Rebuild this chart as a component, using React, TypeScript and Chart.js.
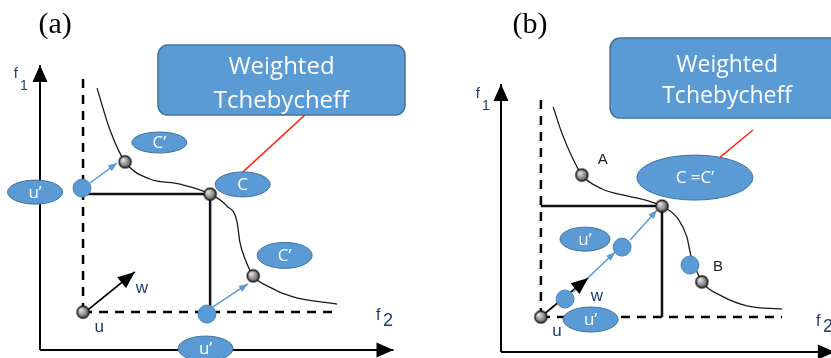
import React, { useEffect, useRef } from "react";
import { Chart, registerables } from "chart.js";

Chart.register(...registerables);

type P = [number, number];

// ---------------- Panel (a) data, diagram units (f2 horizontal, f1 vertical) ----------------
const A_TITLE = "(a)";
const A_TITLE_AT: P = [0.43, 11.4];
const A_F1_AXIS: P[] = [[0, 0], [0, 10.0]];
const A_F2_AXIS: P[] = [[0, 0], [10.1, 0]];
const A_DASH_V: P[] = [[1.23, 1.33], [1.23, 9.58]];
const A_DASH_H: P[] = [[1.23, 1.33], [8.49, 1.33]];
const A_RECT: P[] = [[1.2, 5.47], [4.86, 5.47], [4.86, 1.26]];
const A_FRONT: P[] = [
  [1.63, 9.19], [2.0, 7.72], [2.43, 6.6], [3.14, 6.0], [4.0, 5.82], [4.86, 5.47],
  [5.34, 5.05], [5.63, 4.49], [5.71, 3.79], [5.86, 3.19], [6.09, 2.6], [6.49, 2.25],
  [7.23, 1.86], [8.49, 1.61],
];
const A_FRONT_PTS: P[] = [[2.43, 6.6], [4.86, 5.47], [6.09, 2.6]];
const A_IDEAL: P[] = [[1.23, 1.33]];
const A_SHIFTED: P[] = [[1.2, 5.68], [4.77, 1.26]];
const A_MOVE_1: P[] = [[1.43, 5.86], [2.2, 6.56]];
const A_MOVE_2: P[] = [[4.94, 1.51], [5.94, 2.32]];
const A_WEIGHT: P[] = [[1.29, 1.33], [2.71, 2.74]];
const A_LINK: P[] = [[7.57, 8.25], [5.8, 6.25]];
const A_BUBBLE_TEXT = ["u\u2019", "C\u2019", "C", "C\u2019", "u\u2019"];
const A_BUBBLE_AT: P[] = [[-0.14, 5.54], [3.41, 7.28], [5.79, 5.81], [6.99, 3.32], [4.73, 0.05]];
const A_BOX_TEXT = ["Weighted", "Tchebycheff"];
const A_BOX_AT: P = [6.9, 9.47];
const A_LABEL_TEXT = ["u", "w"];
const A_LABEL_AT: P[] = [[1.69, 0.81], [2.91, 2.18]];
const A_F1_AT: P = [-0.69, 9.68];
const A_F2_AT: P = [9.66, 1.19];

// ---------------- Panel (b) data ----------------
const B_TITLE = "(b)";
const B_TITLE_AT: P = [0.83, 11.47];
const B_F1_AXIS: P[] = [[0, 0], [0, 9.4]];
const B_F2_AXIS: P[] = [[0, 0], [9.54, 0]];
const B_DASH_V: P[] = [[1.14, 1.23], [1.14, 9.02]];
const B_DASH_H: P[] = [[1.14, 1.23], [8.03, 1.23]];
const B_RECT: P[] = [[1.14, 5.12], [4.6, 5.12], [4.6, 1.23]];
const B_FRONT: P[] = [
  [1.49, 8.6], [1.74, 7.68], [2.03, 6.84], [2.31, 6.21], [2.89, 5.72], [3.63, 5.47],
  [4.2, 5.3], [4.6, 5.12], [5.06, 4.67], [5.31, 4.04], [5.43, 3.37], [5.6, 2.81],
  [5.74, 2.46], [6.31, 1.96], [7.06, 1.61], [8.03, 1.51],
];
const B_FRONT_PTS: P[] = [[2.31, 6.21], [4.6, 5.12], [5.74, 2.46]];
const B_IDEAL: P[] = [[1.14, 1.23]];
const B_SHIFTED: P[] = [[1.83, 1.86], [3.46, 3.68], [5.4, 3.05]];
const B_MOVE_1: P[] = [[2.06, 2.11], [3.26, 3.51]];
const B_MOVE_2: P[] = [[3.69, 3.93], [4.46, 4.98]];
const B_WEIGHT: P[] = [[1.2, 1.3], [2.49, 2.6]];
const B_LINK: P[] = [[7.2, 7.79], [6.26, 6.84]];
const B_BUBBLE_TEXT = ["u\u2019", "u\u2019", "C =C\u2019"];
const B_BUBBLE_AT: P[] = [[2.4, 3.96], [2.56, 1.14], [5.54, 6.12]];
const B_BOX_TEXT = ["Weighted", "Tchebycheff"];
const B_BOX_AT: P = [6.46, 9.61];
const B_LABEL_TEXT = ["u", "w", "A", "B"];
const B_LABEL_AT: P[] = [[1.6, 0.74], [2.74, 1.96], [2.91, 6.74], [6.2, 2.98]];
const B_F1_AT: P = [-0.66, 9.05];
const B_F2_AT: P = [9.06, 1.05];

// ---------------- styles / layout ----------------
const BLUE = "#5b9bd5";
const BLUE_EDGE = "#41719c";
const NAVY = "#1f3b66";

type PanelCfg = {
  width: number;
  height: number;
  origin: P; // pixel of diagram origin
  pxPerUnit: P;
  title: string;
  titleAt: P;
  f1Axis: P[];
  f2Axis: P[];
  dashV: P[];
  dashH: P[];
  rect: P[];
  front: P[];
  frontPts: P[];
  ideal: P[];
  shifted: P[];
  moves: P[][];
  weight: P[];
  link: P[];
  bubbleText: string[];
  bubbleAt: P[];
  bubbleSize: P[];
  boxText: string[];
  boxAt: P;
  boxSize: P;
  boxFont: number;
  boxLineOffsets: P;
  labelText: string[];
  labelAt: P[];
  labelColor: string[];
  f1At: P;
  f2At: P;
};

const PANEL_A: PanelCfg = {
  width: 415, height: 358, origin: [40, 350], pxPerUnit: [35, 28.5],
  title: A_TITLE, titleAt: A_TITLE_AT,
  f1Axis: A_F1_AXIS, f2Axis: A_F2_AXIS, dashV: A_DASH_V, dashH: A_DASH_H, rect: A_RECT,
  front: A_FRONT, frontPts: A_FRONT_PTS, ideal: A_IDEAL, shifted: A_SHIFTED,
  moves: [A_MOVE_1, A_MOVE_2], weight: A_WEIGHT, link: A_LINK,
  bubbleText: A_BUBBLE_TEXT, bubbleAt: A_BUBBLE_AT,
  bubbleSize: [[55, 24], [55, 21], [55, 25], [55, 26], [55, 25]],
  boxText: A_BOX_TEXT, boxAt: A_BOX_AT, boxSize: [247, 70], boxFont: 24, boxLineOffsets: [-6, 28],
  labelText: A_LABEL_TEXT, labelAt: A_LABEL_AT, labelColor: [NAVY, NAVY],
  f1At: A_F1_AT, f2At: A_F2_AT,
};

const PANEL_B: PanelCfg = {
  width: 416, height: 358, origin: [86, 352], pxPerUnit: [35, 28.5],
  title: B_TITLE, titleAt: B_TITLE_AT,
  f1Axis: B_F1_AXIS, f2Axis: B_F2_AXIS, dashV: B_DASH_V, dashH: B_DASH_H, rect: B_RECT,
  front: B_FRONT, frontPts: B_FRONT_PTS, ideal: B_IDEAL, shifted: B_SHIFTED,
  moves: [B_MOVE_1, B_MOVE_2], weight: B_WEIGHT, link: B_LINK,
  bubbleText: B_BUBBLE_TEXT, bubbleAt: B_BUBBLE_AT,
  bubbleSize: [[50, 24], [55, 25], [116, 45]],
  boxText: B_BOX_TEXT, boxAt: B_BOX_AT, boxSize: [234, 80], boxFont: 23, boxLineOffsets: [-6, 25],
  labelText: B_LABEL_TEXT, labelAt: B_LABEL_AT, labelColor: [NAVY, NAVY, "#222", "#222"],
  f1At: B_F1_AT, f2At: B_F2_AT,
};

const toXY = (pts: P[]) => pts.map(([x, y]) => ({ x, y }));

function makeBall(): HTMLCanvasElement {
  const c = document.createElement("canvas");
  c.width = 15;
  c.height = 15;
  const g = c.getContext("2d")!;
  const grad = g.createRadialGradient(5, 5, 0.5, 7.5, 7.5, 7.5);
  grad.addColorStop(0, "#e6e6e6");
  grad.addColorStop(0.55, "#8c8c8c");
  grad.addColorStop(1, "#303030");
  g.beginPath();
  g.arc(7.5, 7.5, 6, 0, Math.PI * 2);
  g.fillStyle = grad;
  g.fill();
  g.lineWidth = 1.4;
  g.strokeStyle = "#111";
  g.stroke();
  return c;
}

function lineDs(pts: P[], color: string, width: number, extra: any = {}) {
  return {
    data: toXY(pts),
    showLine: true,
    borderColor: color,
    backgroundColor: color,
    borderWidth: width,
    pointRadius: 0,
    pointHoverRadius: 0,
    fill: false,
    tension: 0,
    clip: false,
    ...extra,
  };
}

const diagramPlugin = {
  id: "diagram",
  afterDatasetsDraw(chart: any) {
    const cfg: PanelCfg = chart.options.plugins.diagram.cfg;
    const ctx: CanvasRenderingContext2D = chart.ctx;
    const xs = chart.scales.x;
    const ys = chart.scales.y;
    const px = (p: P): P => [xs.getPixelForValue(p[0]), ys.getPixelForValue(p[1])];

    ctx.save();
    // arrowheads
    chart.data.datasets.forEach((ds: any, i: number) => {
      if (!ds.arrowHead) return;
      const els = chart.getDatasetMeta(i).data;
      const a = els[els.length - 2];
      const b = els[els.length - 1];
      const ang = Math.atan2(b.y - a.y, b.x - a.x);
      const { len, wid, color } = ds.arrowHead;
      ctx.save();
      ctx.translate(b.x, b.y);
      ctx.rotate(ang);
      ctx.beginPath();
      ctx.moveTo(0, 0);
      ctx.lineTo(-len, -wid / 2);
      ctx.lineTo(-len, wid / 2);
      ctx.closePath();
      ctx.fillStyle = color;
      ctx.fill();
      ctx.restore();
    });

    // bubbles
    cfg.bubbleText.forEach((t, i) => {
      const [cx, cy] = px(cfg.bubbleAt[i]);
      const [w, h] = cfg.bubbleSize[i];
      ctx.beginPath();
      ctx.ellipse(cx, cy, w / 2, h / 2, 0, 0, Math.PI * 2);
      ctx.fillStyle = BLUE;
      ctx.fill();
      ctx.lineWidth = 1;
      ctx.strokeStyle = BLUE_EDGE;
      ctx.stroke();
      ctx.fillStyle = "#ffffff";
      ctx.font = "17px 'Open Sans'";
      ctx.textAlign = "center";
      ctx.textBaseline = "middle";
      ctx.fillText(t, cx, cy + 1);
    });

    // callout box
    {
      const [cx, cy] = px(cfg.boxAt);
      const [w, h] = cfg.boxSize;
      ctx.beginPath();
      (ctx as any).roundRect(cx - w / 2, cy - h / 2, w, h, 10);
      ctx.fillStyle = BLUE;
      ctx.fill();
      ctx.lineWidth = 1.5;
      ctx.strokeStyle = BLUE_EDGE;
      ctx.stroke();
      ctx.fillStyle = "#ffffff";
      ctx.font = `${cfg.boxFont}px 'Open Sans'`;
      ctx.textAlign = "center";
      ctx.textBaseline = "alphabetic";
      ctx.fillText(cfg.boxText[0], cx, cy + cfg.boxLineOffsets[0]);
      ctx.fillText(cfg.boxText[1], cx, cy + cfg.boxLineOffsets[1]);
    }

    // point labels
    ctx.textAlign = "center";
    ctx.textBaseline = "middle";
    cfg.labelText.forEach((t, i) => {
      const [x, y] = px(cfg.labelAt[i]);
      ctx.fillStyle = cfg.labelColor[i];
      ctx.font = /[A-Z]/.test(t) ? "15px 'Liberation Sans'" : "17px 'Liberation Sans'";
      ctx.fillText(t, x, y);
    });

    // axis labels
    {
      const [x1, y1] = px(cfg.f1At);
      ctx.fillStyle = NAVY;
      ctx.font = "15px 'Liberation Sans'";
      ctx.fillText("f", x1, y1);
      ctx.font = "14px 'Liberation Sans'";
      ctx.fillText("1", x1 + 8, y1 + 12);
      const [x2, y2] = px(cfg.f2At);
      ctx.font = "16px 'Liberation Sans'";
      ctx.fillText("f", x2, y2);
      ctx.font = "18px 'Liberation Sans'";
      ctx.fillText("2", x2 + 10, y2 + 5);
    }

    // panel title
    {
      const [x, y] = px(cfg.titleAt);
      ctx.fillStyle = "#000";
      ctx.font = "30px 'Liberation Serif'";
      ctx.fillText(cfg.title, x, y);
    }
    ctx.restore();
  },
};

function Panel({ cfg }: { cfg: PanelCfg }) {
  const ref = useRef<HTMLCanvasElement | null>(null);
  useEffect(() => {
    if (!ref.current) return;
    const ball = makeBall();
    const [ox, oy] = cfg.origin;
    const [ux, uy] = cfg.pxPerUnit;
    const datasets: any[] = [
      lineDs(cfg.f1Axis, "#000", 2, { arrowHead: { len: 17, wid: 15, color: "#000" } }),
      lineDs(cfg.f2Axis, "#000", 2, { arrowHead: { len: 17, wid: 15, color: "#000" } }),
      lineDs(cfg.dashV, "#000", 2.5, { borderDash: [9, 7] }),
      lineDs(cfg.dashH, "#000", 2.5, { borderDash: [9, 7] }),
      lineDs(cfg.rect, "#111", 2.5),
      lineDs(cfg.front, "#1a1a1a", 1.3, { cubicInterpolationMode: "monotone" }),
      lineDs(cfg.link, "#ff2a12", 1.5),
      lineDs(cfg.weight, "#000", 1.8, { arrowHead: { len: 17, wid: 14, color: "#000" } }),
      ...cfg.moves.map((m) =>
        lineDs(m, BLUE, 1.5, { arrowHead: { len: 9, wid: 7, color: BLUE } })
      ),
      {
        data: toXY(cfg.frontPts.concat(cfg.ideal)),
        showLine: false,
        pointStyle: ball,
        pointRadius: 7,
        clip: false,
      },
      {
        data: toXY(cfg.shifted),
        showLine: false,
        pointStyle: "circle",
        pointRadius: 9,
        backgroundColor: BLUE,
        borderColor: "#4a86c0",
        borderWidth: 1,
        clip: false,
      },
    ];
    datasets.forEach((d, i) => (d.order = -i));

    const chart = new Chart(ref.current, {
      type: "scatter",
      data: { datasets },
      options: {
        animation: false,
        responsive: false,
        maintainAspectRatio: false,
        events: [],
        layout: { padding: 0, autoPadding: false },
        scales: {
          x: { type: "linear", display: false, min: -ox / ux, max: (cfg.width - ox) / ux },
          y: { type: "linear", display: false, min: -(cfg.height - oy) / uy, max: oy / uy },
        },
        plugins: {
          legend: { display: false },
          tooltip: { enabled: false },
          diagram: { cfg },
        } as any,
      },
      plugins: [diagramPlugin],
    } as any);
    return () => chart.destroy();
  }, [cfg]);
  return (
    <canvas
      ref={ref}
      width={cfg.width}
      height={cfg.height}
      style={{ display: "block", width: cfg.width, height: cfg.height }}
    />
  );
}

export default function App() {
  useEffect(() => {
    document.body.style.margin = "0";
    document.body.style.background = "#fff";
  }, []);
  return (
    <div style={{ display: "flex", width: 831, height: 358, background: "#fff" }}>
      <Panel cfg={PANEL_A} />
      <Panel cfg={PANEL_B} />
    </div>
  );
}
